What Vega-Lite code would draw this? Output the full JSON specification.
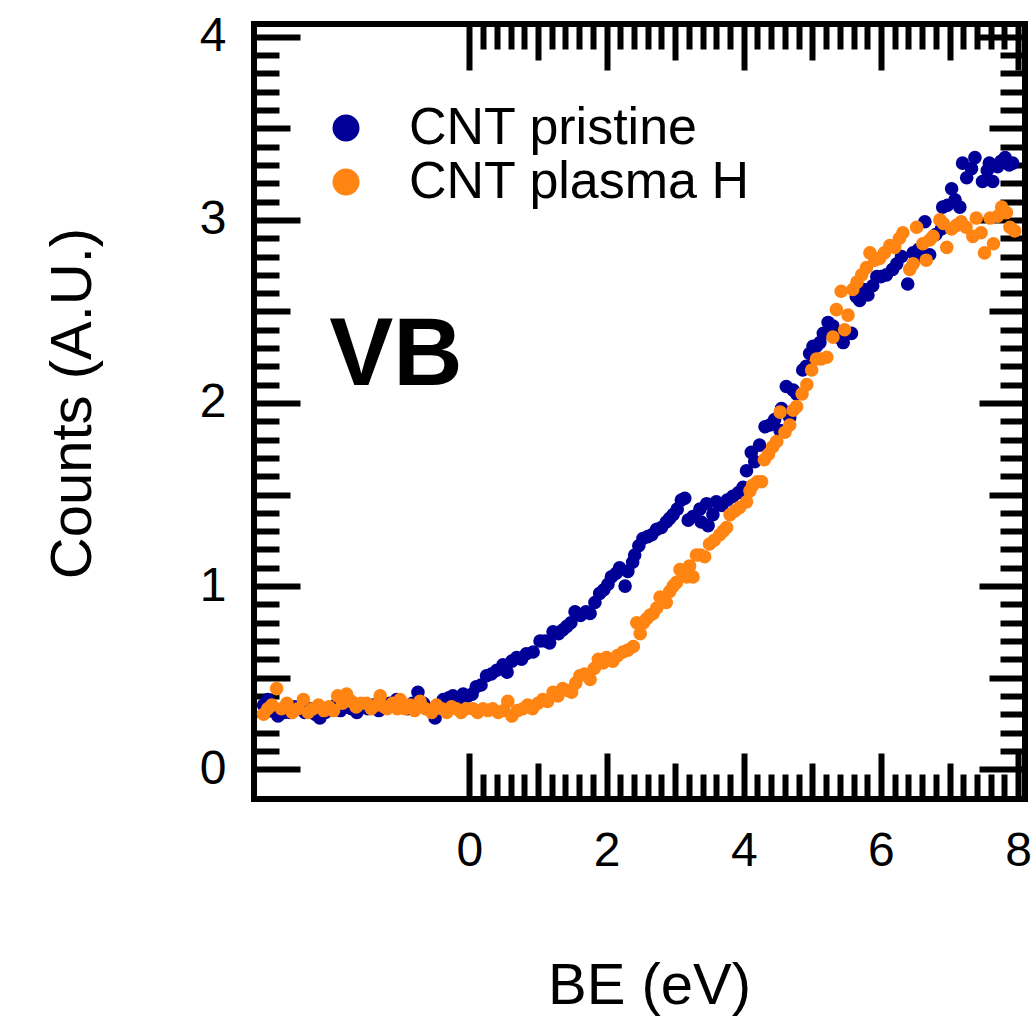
{
  "$schema": "https://vega.github.io/schema/vega-lite/v6.json",
  "width": 771,
  "height": 775,
  "autosize": {"type": "none"},
  "padding": {"left": 254, "top": 24, "right": 11, "bottom": 218},
  "background": "white",
  "config": {
    "view": {"stroke": "black", "strokeWidth": 6},
    "font": "Liberation Sans",
    "axis": {
      "domain": false, "grid": false, "ticks": true,
      "tickColor": "black", "tickWidth": 6, "tickCap": "butt",
      "labelColor": "black", "titleColor": "black",
      "labelFont": "Liberation Sans", "titleFont": "Liberation Sans",
      "labelFontSize": 48, "titleFontSize": 58, "titleFontWeight": "normal",
      "labelFlush": false, "labelOverlap": false
    },
    "legend": {
      "labelFont": "Liberation Sans", "labelFontSize": 52, "labelColor": "black",
      "labelLimit": 1000, "symbolType": "circle", "symbolSize": 729,
      "symbolStrokeWidth": 0, "padding": 0, "rowPadding": 2, "labelOffset": 37
    }
  },
  "datasets": {
    "pts": [
      {"sample":"CNT pristine","be":-3.0,"counts":0.35},{"sample":"CNT pristine","be":-2.94,"counts":0.38},{"sample":"CNT pristine","be":-2.87,"counts":0.32},{"sample":"CNT pristine","be":-2.79,"counts":0.29},{"sample":"CNT pristine","be":-2.7,"counts":0.31},{"sample":"CNT pristine","be":-2.62,"counts":0.31},{"sample":"CNT pristine","be":-2.55,"counts":0.34},{"sample":"CNT pristine","be":-2.47,"counts":0.33},{"sample":"CNT pristine","be":-2.4,"counts":0.31},{"sample":"CNT pristine","be":-2.32,"counts":0.33},{"sample":"CNT pristine","be":-2.25,"counts":0.30},{"sample":"CNT pristine","be":-2.18,"counts":0.28},{"sample":"CNT pristine","be":-2.1,"counts":0.31},{"sample":"CNT pristine","be":-2.02,"counts":0.33},{"sample":"CNT pristine","be":-1.95,"counts":0.35},{"sample":"CNT pristine","be":-1.88,"counts":0.32},{"sample":"CNT pristine","be":-1.8,"counts":0.34},{"sample":"CNT pristine","be":-1.72,"counts":0.33},{"sample":"CNT pristine","be":-1.64,"counts":0.31},{"sample":"CNT pristine","be":-1.56,"counts":0.34},{"sample":"CNT pristine","be":-1.48,"counts":0.33},{"sample":"CNT pristine","be":-1.4,"counts":0.35},{"sample":"CNT pristine","be":-1.32,"counts":0.32},{"sample":"CNT pristine","be":-1.24,"counts":0.34},{"sample":"CNT pristine","be":-1.16,"counts":0.36},{"sample":"CNT pristine","be":-1.06,"counts":0.38},{"sample":"CNT pristine","be":-0.98,"counts":0.34},{"sample":"CNT pristine","be":-0.9,"counts":0.33},{"sample":"CNT pristine","be":-0.83,"counts":0.36},{"sample":"CNT pristine","be":-0.75,"counts":0.42},{"sample":"CNT pristine","be":-0.67,"counts":0.36},{"sample":"CNT pristine","be":-0.6,"counts":0.33},{"sample":"CNT pristine","be":-0.5,"counts":0.28},{"sample":"CNT pristine","be":-0.43,"counts":0.33},{"sample":"CNT pristine","be":-0.38,"counts":0.38},{"sample":"CNT pristine","be":-0.3,"counts":0.39},{"sample":"CNT pristine","be":-0.24,"counts":0.40},{"sample":"CNT pristine","be":-0.16,"counts":0.38},{"sample":"CNT pristine","be":-0.09,"counts":0.41},{"sample":"CNT pristine","be":-0.02,"counts":0.40},{"sample":"CNT pristine","be":0.04,"counts":0.41},{"sample":"CNT pristine","be":0.1,"counts":0.45},{"sample":"CNT pristine","be":0.17,"counts":0.46},{"sample":"CNT pristine","be":0.25,"counts":0.51},{"sample":"CNT pristine","be":0.32,"counts":0.52},{"sample":"CNT pristine","be":0.4,"counts":0.54},{"sample":"CNT pristine","be":0.49,"counts":0.57},{"sample":"CNT pristine","be":0.55,"counts":0.53},{"sample":"CNT pristine","be":0.62,"counts":0.59},{"sample":"CNT pristine","be":0.69,"counts":0.61},{"sample":"CNT pristine","be":0.76,"counts":0.60},{"sample":"CNT pristine","be":0.83,"counts":0.63},{"sample":"CNT pristine","be":0.93,"counts":0.64},{"sample":"CNT pristine","be":1.03,"counts":0.70},{"sample":"CNT pristine","be":1.1,"counts":0.70},{"sample":"CNT pristine","be":1.17,"counts":0.69},{"sample":"CNT pristine","be":1.22,"counts":0.75},{"sample":"CNT pristine","be":1.3,"counts":0.74},{"sample":"CNT pristine","be":1.36,"counts":0.76},{"sample":"CNT pristine","be":1.42,"counts":0.78},{"sample":"CNT pristine","be":1.48,"counts":0.80},{"sample":"CNT pristine","be":1.54,"counts":0.86},{"sample":"CNT pristine","be":1.62,"counts":0.84},{"sample":"CNT pristine","be":1.7,"counts":0.86},{"sample":"CNT pristine","be":1.76,"counts":0.85},{"sample":"CNT pristine","be":1.83,"counts":0.91},{"sample":"CNT pristine","be":1.9,"counts":0.96},{"sample":"CNT pristine","be":1.96,"counts":0.98},{"sample":"CNT pristine","be":2.02,"counts":1.01},{"sample":"CNT pristine","be":2.07,"counts":1.05},{"sample":"CNT pristine","be":2.14,"counts":1.07},{"sample":"CNT pristine","be":2.19,"counts":1.10},{"sample":"CNT pristine","be":2.27,"counts":1.00},{"sample":"CNT pristine","be":2.31,"counts":1.08},{"sample":"CNT pristine","be":2.38,"counts":1.13},{"sample":"CNT pristine","be":2.41,"counts":1.17},{"sample":"CNT pristine","be":2.47,"counts":1.22},{"sample":"CNT pristine","be":2.53,"counts":1.26},{"sample":"CNT pristine","be":2.6,"counts":1.27},{"sample":"CNT pristine","be":2.66,"counts":1.28},{"sample":"CNT pristine","be":2.73,"counts":1.31},{"sample":"CNT pristine","be":2.8,"counts":1.32},{"sample":"CNT pristine","be":2.87,"counts":1.35},{"sample":"CNT pristine","be":2.92,"counts":1.37},{"sample":"CNT pristine","be":2.97,"counts":1.39},{"sample":"CNT pristine","be":3.03,"counts":1.42},{"sample":"CNT pristine","be":3.09,"counts":1.47},{"sample":"CNT pristine","be":3.14,"counts":1.48},{"sample":"CNT pristine","be":3.19,"counts":1.36},{"sample":"CNT pristine","be":3.26,"counts":1.38},{"sample":"CNT pristine","be":3.36,"counts":1.42},{"sample":"CNT pristine","be":3.38,"counts":1.35},{"sample":"CNT pristine","be":3.46,"counts":1.45},{"sample":"CNT pristine","be":3.48,"counts":1.33},{"sample":"CNT pristine","be":3.55,"counts":1.39},{"sample":"CNT pristine","be":3.6,"counts":1.46},{"sample":"CNT pristine","be":3.68,"counts":1.44},{"sample":"CNT pristine","be":3.76,"counts":1.47},{"sample":"CNT pristine","be":3.84,"counts":1.49},{"sample":"CNT pristine","be":3.92,"counts":1.51},{"sample":"CNT pristine","be":3.99,"counts":1.54},{"sample":"CNT pristine","be":4.04,"counts":1.63},{"sample":"CNT pristine","be":4.11,"counts":1.73},{"sample":"CNT pristine","be":4.16,"counts":1.68},{"sample":"CNT pristine","be":4.23,"counts":1.77},{"sample":"CNT pristine","be":4.31,"counts":1.87},{"sample":"CNT pristine","be":4.38,"counts":1.88},{"sample":"CNT pristine","be":4.45,"counts":1.91},{"sample":"CNT pristine","be":4.53,"counts":1.85},{"sample":"CNT pristine","be":4.55,"counts":1.97},{"sample":"CNT pristine","be":4.62,"counts":2.09},{"sample":"CNT pristine","be":4.67,"counts":1.92},{"sample":"CNT pristine","be":4.72,"counts":2.07},{"sample":"CNT pristine","be":4.77,"counts":2.05},{"sample":"CNT pristine","be":4.86,"counts":2.18},{"sample":"CNT pristine","be":4.91,"counts":2.20},{"sample":"CNT pristine","be":4.96,"counts":2.27},{"sample":"CNT pristine","be":5.01,"counts":2.31},{"sample":"CNT pristine","be":5.06,"counts":2.31},{"sample":"CNT pristine","be":5.11,"counts":2.33},{"sample":"CNT pristine","be":5.16,"counts":2.38},{"sample":"CNT pristine","be":5.23,"counts":2.44},{"sample":"CNT pristine","be":5.3,"counts":2.42},{"sample":"CNT pristine","be":5.38,"counts":2.36},{"sample":"CNT pristine","be":5.45,"counts":2.33},{"sample":"CNT pristine","be":5.5,"counts":2.38},{"sample":"CNT pristine","be":5.57,"counts":2.38},{"sample":"CNT pristine","be":5.64,"counts":2.58},{"sample":"CNT pristine","be":5.69,"counts":2.56},{"sample":"CNT pristine","be":5.75,"counts":2.62},{"sample":"CNT pristine","be":5.81,"counts":2.59},{"sample":"CNT pristine","be":5.88,"counts":2.64},{"sample":"CNT pristine","be":5.94,"counts":2.69},{"sample":"CNT pristine","be":6.0,"counts":2.69},{"sample":"CNT pristine","be":6.08,"counts":2.70},{"sample":"CNT pristine","be":6.17,"counts":2.73},{"sample":"CNT pristine","be":6.23,"counts":2.76},{"sample":"CNT pristine","be":6.3,"counts":2.80},{"sample":"CNT pristine","be":6.39,"counts":2.65},{"sample":"CNT pristine","be":6.47,"counts":2.82},{"sample":"CNT pristine","be":6.55,"counts":2.84},{"sample":"CNT pristine","be":6.61,"counts":2.80},{"sample":"CNT pristine","be":6.64,"counts":2.99},{"sample":"CNT pristine","be":6.71,"counts":2.81},{"sample":"CNT pristine","be":6.8,"counts":2.92},{"sample":"CNT pristine","be":6.88,"counts":2.95},{"sample":"CNT pristine","be":6.9,"counts":3.07},{"sample":"CNT pristine","be":6.97,"counts":3.08},{"sample":"CNT pristine","be":7.03,"counts":3.17},{"sample":"CNT pristine","be":7.08,"counts":3.11},{"sample":"CNT pristine","be":7.15,"counts":3.07},{"sample":"CNT pristine","be":7.19,"counts":3.31},{"sample":"CNT pristine","be":7.25,"counts":3.23},{"sample":"CNT pristine","be":7.32,"counts":3.28},{"sample":"CNT pristine","be":7.37,"counts":3.34},{"sample":"CNT pristine","be":7.48,"counts":3.21},{"sample":"CNT pristine","be":7.55,"counts":3.27},{"sample":"CNT pristine","be":7.58,"counts":3.31},{"sample":"CNT pristine","be":7.63,"counts":3.21},{"sample":"CNT pristine","be":7.7,"counts":3.29},{"sample":"CNT pristine","be":7.75,"counts":3.32},{"sample":"CNT pristine","be":7.81,"counts":3.34},{"sample":"CNT pristine","be":7.87,"counts":3.30},{"sample":"CNT pristine","be":7.92,"counts":3.31},
      {"sample":"CNT plasma H","be":-3.0,"counts":0.30},{"sample":"CNT plasma H","be":-2.94,"counts":0.33},{"sample":"CNT plasma H","be":-2.88,"counts":0.35},{"sample":"CNT plasma H","be":-2.81,"counts":0.44},{"sample":"CNT plasma H","be":-2.74,"counts":0.33},{"sample":"CNT plasma H","be":-2.66,"counts":0.36},{"sample":"CNT plasma H","be":-2.58,"counts":0.31},{"sample":"CNT plasma H","be":-2.5,"counts":0.33},{"sample":"CNT plasma H","be":-2.42,"counts":0.38},{"sample":"CNT plasma H","be":-2.35,"counts":0.31},{"sample":"CNT plasma H","be":-2.28,"counts":0.33},{"sample":"CNT plasma H","be":-2.2,"counts":0.35},{"sample":"CNT plasma H","be":-2.12,"counts":0.32},{"sample":"CNT plasma H","be":-2.05,"counts":0.34},{"sample":"CNT plasma H","be":-1.98,"counts":0.32},{"sample":"CNT plasma H","be":-1.92,"counts":0.40},{"sample":"CNT plasma H","be":-1.85,"counts":0.36},{"sample":"CNT plasma H","be":-1.79,"counts":0.41},{"sample":"CNT plasma H","be":-1.72,"counts":0.37},{"sample":"CNT plasma H","be":-1.65,"counts":0.34},{"sample":"CNT plasma H","be":-1.58,"counts":0.36},{"sample":"CNT plasma H","be":-1.5,"counts":0.36},{"sample":"CNT plasma H","be":-1.43,"counts":0.33},{"sample":"CNT plasma H","be":-1.36,"counts":0.35},{"sample":"CNT plasma H","be":-1.3,"counts":0.40},{"sample":"CNT plasma H","be":-1.24,"counts":0.34},{"sample":"CNT plasma H","be":-1.2,"counts":0.33},{"sample":"CNT plasma H","be":-1.12,"counts":0.36},{"sample":"CNT plasma H","be":-1.05,"counts":0.33},{"sample":"CNT plasma H","be":-1.01,"counts":0.38},{"sample":"CNT plasma H","be":-0.94,"counts":0.33},{"sample":"CNT plasma H","be":-0.87,"counts":0.35},{"sample":"CNT plasma H","be":-0.8,"counts":0.32},{"sample":"CNT plasma H","be":-0.72,"counts":0.37},{"sample":"CNT plasma H","be":-0.64,"counts":0.33},{"sample":"CNT plasma H","be":-0.55,"counts":0.31},{"sample":"CNT plasma H","be":-0.48,"counts":0.35},{"sample":"CNT plasma H","be":-0.4,"counts":0.33},{"sample":"CNT plasma H","be":-0.33,"counts":0.31},{"sample":"CNT plasma H","be":-0.26,"counts":0.34},{"sample":"CNT plasma H","be":-0.19,"counts":0.33},{"sample":"CNT plasma H","be":-0.12,"counts":0.31},{"sample":"CNT plasma H","be":-0.05,"counts":0.33},{"sample":"CNT plasma H","be":0.05,"counts":0.33},{"sample":"CNT plasma H","be":0.12,"counts":0.31},{"sample":"CNT plasma H","be":0.2,"counts":0.33},{"sample":"CNT plasma H","be":0.27,"counts":0.32},{"sample":"CNT plasma H","be":0.34,"counts":0.33},{"sample":"CNT plasma H","be":0.42,"counts":0.31},{"sample":"CNT plasma H","be":0.5,"counts":0.32},{"sample":"CNT plasma H","be":0.56,"counts":0.37},{"sample":"CNT plasma H","be":0.62,"counts":0.29},{"sample":"CNT plasma H","be":0.7,"counts":0.32},{"sample":"CNT plasma H","be":0.78,"counts":0.33},{"sample":"CNT plasma H","be":0.85,"counts":0.35},{"sample":"CNT plasma H","be":0.92,"counts":0.33},{"sample":"CNT plasma H","be":1.0,"counts":0.36},{"sample":"CNT plasma H","be":1.07,"counts":0.38},{"sample":"CNT plasma H","be":1.14,"counts":0.37},{"sample":"CNT plasma H","be":1.22,"counts":0.42},{"sample":"CNT plasma H","be":1.29,"counts":0.40},{"sample":"CNT plasma H","be":1.36,"counts":0.44},{"sample":"CNT plasma H","be":1.43,"counts":0.43},{"sample":"CNT plasma H","be":1.49,"counts":0.42},{"sample":"CNT plasma H","be":1.55,"counts":0.47},{"sample":"CNT plasma H","be":1.61,"counts":0.51},{"sample":"CNT plasma H","be":1.68,"counts":0.52},{"sample":"CNT plasma H","be":1.76,"counts":0.49},{"sample":"CNT plasma H","be":1.82,"counts":0.55},{"sample":"CNT plasma H","be":1.88,"counts":0.60},{"sample":"CNT plasma H","be":1.95,"counts":0.58},{"sample":"CNT plasma H","be":2.0,"counts":0.61},{"sample":"CNT plasma H","be":2.09,"counts":0.59},{"sample":"CNT plasma H","be":2.16,"counts":0.62},{"sample":"CNT plasma H","be":2.24,"counts":0.64},{"sample":"CNT plasma H","be":2.31,"counts":0.65},{"sample":"CNT plasma H","be":2.39,"counts":0.67},{"sample":"CNT plasma H","be":2.44,"counts":0.80},{"sample":"CNT plasma H","be":2.49,"counts":0.74},{"sample":"CNT plasma H","be":2.54,"counts":0.80},{"sample":"CNT plasma H","be":2.58,"counts":0.82},{"sample":"CNT plasma H","be":2.63,"counts":0.84},{"sample":"CNT plasma H","be":2.68,"counts":0.85},{"sample":"CNT plasma H","be":2.73,"counts":0.88},{"sample":"CNT plasma H","be":2.78,"counts":0.94},{"sample":"CNT plasma H","be":2.87,"counts":0.91},{"sample":"CNT plasma H","be":2.92,"counts":0.97},{"sample":"CNT plasma H","be":2.97,"counts":1.00},{"sample":"CNT plasma H","be":3.02,"counts":1.02},{"sample":"CNT plasma H","be":3.07,"counts":1.09},{"sample":"CNT plasma H","be":3.12,"counts":1.06},{"sample":"CNT plasma H","be":3.17,"counts":1.05},{"sample":"CNT plasma H","be":3.21,"counts":1.11},{"sample":"CNT plasma H","be":3.26,"counts":1.05},{"sample":"CNT plasma H","be":3.31,"counts":1.17},{"sample":"CNT plasma H","be":3.37,"counts":1.17},{"sample":"CNT plasma H","be":3.43,"counts":1.16},{"sample":"CNT plasma H","be":3.5,"counts":1.23},{"sample":"CNT plasma H","be":3.57,"counts":1.25},{"sample":"CNT plasma H","be":3.65,"counts":1.28},{"sample":"CNT plasma H","be":3.7,"counts":1.30},{"sample":"CNT plasma H","be":3.75,"counts":1.32},{"sample":"CNT plasma H","be":3.8,"counts":1.39},{"sample":"CNT plasma H","be":3.87,"counts":1.41},{"sample":"CNT plasma H","be":3.94,"counts":1.43},{"sample":"CNT plasma H","be":4.04,"counts":1.46},{"sample":"CNT plasma H","be":4.09,"counts":1.52},{"sample":"CNT plasma H","be":4.13,"counts":1.55},{"sample":"CNT plasma H","be":4.2,"counts":1.57},{"sample":"CNT plasma H","be":4.26,"counts":1.57},{"sample":"CNT plasma H","be":4.3,"counts":1.69},{"sample":"CNT plasma H","be":4.36,"counts":1.72},{"sample":"CNT plasma H","be":4.42,"counts":1.76},{"sample":"CNT plasma H","be":4.48,"counts":1.79},{"sample":"CNT plasma H","be":4.53,"counts":1.95},{"sample":"CNT plasma H","be":4.6,"counts":1.84},{"sample":"CNT plasma H","be":4.67,"counts":1.88},{"sample":"CNT plasma H","be":4.72,"counts":1.96},{"sample":"CNT plasma H","be":4.77,"counts":1.98},{"sample":"CNT plasma H","be":4.85,"counts":2.05},{"sample":"CNT plasma H","be":4.92,"counts":2.10},{"sample":"CNT plasma H","be":4.99,"counts":2.18},{"sample":"CNT plasma H","be":5.06,"counts":2.24},{"sample":"CNT plasma H","be":5.13,"counts":2.24},{"sample":"CNT plasma H","be":5.21,"counts":2.25},{"sample":"CNT plasma H","be":5.3,"counts":2.36},{"sample":"CNT plasma H","be":5.35,"counts":2.51},{"sample":"CNT plasma H","be":5.42,"counts":2.61},{"sample":"CNT plasma H","be":5.47,"counts":2.40},{"sample":"CNT plasma H","be":5.52,"counts":2.48},{"sample":"CNT plasma H","be":5.59,"counts":2.62},{"sample":"CNT plasma H","be":5.65,"counts":2.66},{"sample":"CNT plasma H","be":5.72,"counts":2.70},{"sample":"CNT plasma H","be":5.79,"counts":2.74},{"sample":"CNT plasma H","be":5.84,"counts":2.82},{"sample":"CNT plasma H","be":5.91,"counts":2.78},{"sample":"CNT plasma H","be":5.98,"counts":2.79},{"sample":"CNT plasma H","be":6.05,"counts":2.82},{"sample":"CNT plasma H","be":6.13,"counts":2.86},{"sample":"CNT plasma H","be":6.2,"counts":2.85},{"sample":"CNT plasma H","be":6.27,"counts":2.90},{"sample":"CNT plasma H","be":6.32,"counts":2.93},{"sample":"CNT plasma H","be":6.42,"counts":2.73},{"sample":"CNT plasma H","be":6.47,"counts":2.76},{"sample":"CNT plasma H","be":6.52,"counts":2.96},{"sample":"CNT plasma H","be":6.61,"counts":2.87},{"sample":"CNT plasma H","be":6.66,"counts":2.78},{"sample":"CNT plasma H","be":6.71,"counts":2.89},{"sample":"CNT plasma H","be":6.76,"counts":2.91},{"sample":"CNT plasma H","be":6.86,"counts":3.00},{"sample":"CNT plasma H","be":6.91,"counts":2.98},{"sample":"CNT plasma H","be":6.96,"counts":2.85},{"sample":"CNT plasma H","be":7.03,"counts":2.95},{"sample":"CNT plasma H","be":7.1,"counts":2.97},{"sample":"CNT plasma H","be":7.17,"counts":2.99},{"sample":"CNT plasma H","be":7.24,"counts":2.96},{"sample":"CNT plasma H","be":7.34,"counts":2.91},{"sample":"CNT plasma H","be":7.39,"counts":3.01},{"sample":"CNT plasma H","be":7.46,"counts":2.93},{"sample":"CNT plasma H","be":7.51,"counts":2.82},{"sample":"CNT plasma H","be":7.59,"counts":3.01},{"sample":"CNT plasma H","be":7.64,"counts":2.87},{"sample":"CNT plasma H","be":7.7,"counts":3.02},{"sample":"CNT plasma H","be":7.76,"counts":3.07},{"sample":"CNT plasma H","be":7.83,"counts":3.04},{"sample":"CNT plasma H","be":7.88,"counts":2.96},{"sample":"CNT plasma H","be":7.95,"counts":2.94}
    ]
  },
  "layer": [
    {
      "data": {"name": "pts"},
      "mark": {"type": "circle", "size": 185, "opacity": 1},
      "encoding": {
        "x": {
          "field": "be", "type": "quantitative",
          "scale": {"domain": [-3.14, 8.10], "nice": false, "zero": false},
          "axis": {
            "orient": "bottom", "title": "BE (eV)",
            "titleX": 395, "titleY": 204, "titleBaseline": "alphabetic", "titleAnchor": "middle", "titleAlign": "center",
            "values": [0,0.2,0.4,0.6,0.8,1,1.2,1.4,1.6,1.8,2,2.2,2.4,2.6,2.8,3,3.2,3.4,3.6,3.8,4,4.2,4.4,4.6,4.8,5,5.2,5.4,5.6,5.8,6,6.2,6.4,6.6,6.8,7,7.2,7.4,7.6,7.8,8],
            "tickSize": {"expr": "datum.value % 2 === 0 ? -46 : (datum.value % 1 === 0 ? -36 : -25)"},
            "labelExpr": "datum.value % 2 === 0 ? '' + datum.value : ''",
            "labelBaseline": "middle", "labelPadding": 98
          }
        },
        "y": {
          "field": "counts", "type": "quantitative",
          "scale": {"domain": [-0.163, 4.07], "nice": false, "zero": false},
          "axis": {
            "orient": "left", "title": "Counts (A.U.)",
            "titleX": -164, "titleY": 379, "titleBaseline": "alphabetic", "titleAngle": 270, "titleAnchor": "middle", "titleAlign": "center",
            "values": [0,0.1,0.2,0.3,0.4,0.5,0.6,0.7,0.8,0.9,1,1.1,1.2,1.3,1.4,1.5,1.6,1.7,1.8,1.9,2,2.1,2.2,2.3,2.4,2.5,2.6,2.7,2.8,2.9,3,3.1,3.2,3.3,3.4,3.5,3.6,3.7,3.8,3.9,4],
            "tickSize": {"expr": "datum.value % 1 === 0 ? -46 : (datum.value === 0.5 || datum.value === 1.5 || datum.value === 2.5 || datum.value === 3.5 ? -36 : -25)"},
            "labelExpr": "datum.value % 1 === 0 ? '' + datum.value : ''",
            "labelPadding": 74
          }
        },
        "color": {
          "field": "sample", "type": "nominal",
          "scale": {"domain": ["CNT pristine", "CNT plasma H"], "range": ["#000099", "#ff8412"]},
          "legend": {"title": null, "orient": "none", "legendX": 66, "legendY": 78}
        }
      }
    },
    {
      "data": {"values": [{"label": "VB"}]},
      "mark": {"type": "text", "font": "Liberation Sans", "fontWeight": "bold", "fontSize": 96, "align": "center", "baseline": "alphabetic", "color": "black"},
      "encoding": {
        "text": {"field": "label", "type": "nominal"},
        "x": {
          "datum": -1.07, "type": "quantitative",
          "axis": {
            "orient": "top", "title": null, "labels": false,
            "values": [0,0.2,0.4,0.6,0.8,1,1.2,1.4,1.6,1.8,2,2.2,2.4,2.6,2.8,3,3.2,3.4,3.6,3.8,4,4.2,4.4,4.6,4.8,5,5.2,5.4,5.6,5.8,6,6.2,6.4,6.6,6.8,7,7.2,7.4,7.6,7.8,8],
            "tickSize": {"expr": "datum.value % 2 === 0 ? -46 : (datum.value % 1 === 0 ? -36 : -25)"}
          }
        },
        "y": {
          "datum": 2.10, "type": "quantitative",
          "axis": {
            "orient": "right", "title": null, "labels": false,
            "values": [0,0.1,0.2,0.3,0.4,0.5,0.6,0.7,0.8,0.9,1,1.1,1.2,1.3,1.4,1.5,1.6,1.7,1.8,1.9,2,2.1,2.2,2.3,2.4,2.5,2.6,2.7,2.8,2.9,3,3.1,3.2,3.3,3.4,3.5,3.6,3.7,3.8,3.9,4],
            "tickSize": {"expr": "datum.value % 1 === 0 ? -46 : (datum.value === 0.5 || datum.value === 1.5 || datum.value === 2.5 || datum.value === 3.5 ? -36 : -25)"}
          }
        }
      }
    }
  ],
  "resolve": {"scale": {"x": "shared", "y": "shared"}, "axis": {"x": "independent", "y": "independent"}}
}
